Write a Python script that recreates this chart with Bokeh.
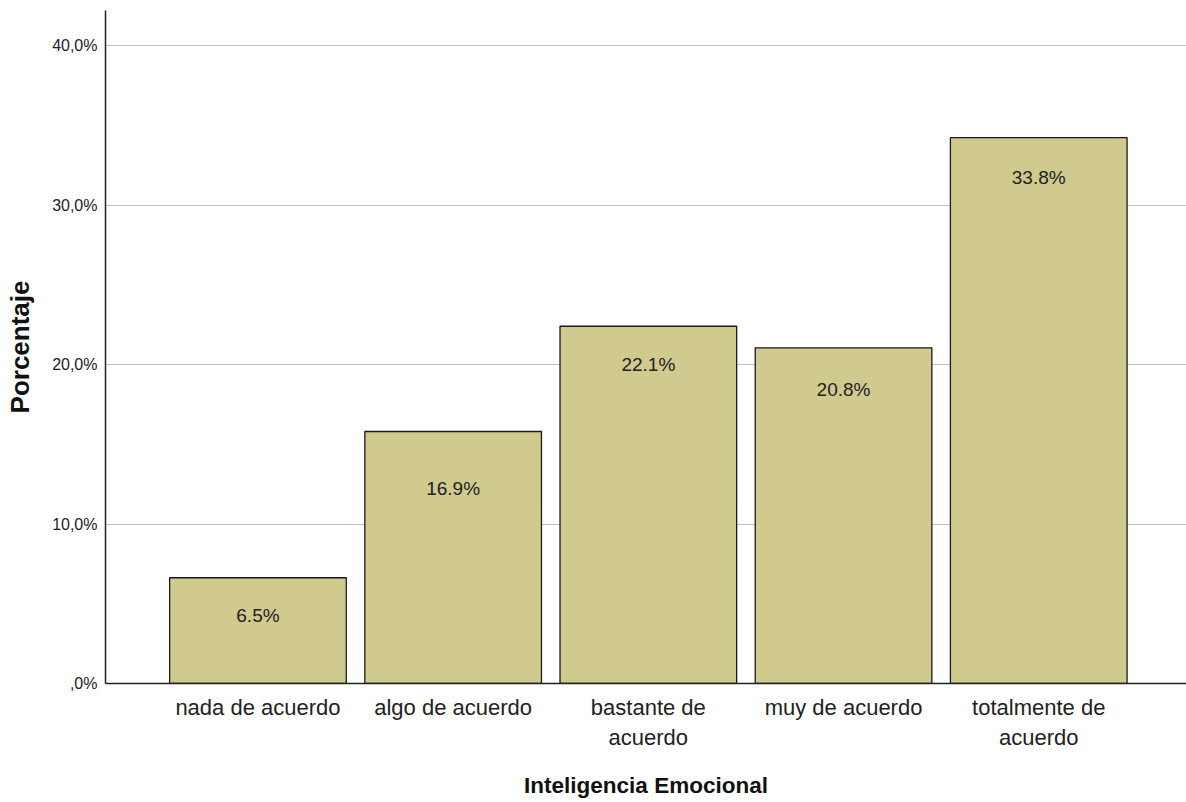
from bokeh.plotting import figure
from bokeh.models import Range1d, FixedTicker, ColumnDataSource
from bokeh.core.properties import value
from bokeh.embed import file_html
from bokeh.resources import INLINE

# Data
categories = ["nada de acuerdo", "algo de acuerdo", "bastante de\nacuerdo",
              "muy de acuerdo", "totalmente de\nacuerdo"]
bar_heights = [6.63, 15.8, 22.4, 21.05, 34.23]
bar_labels = ["6.5%", "16.9%", "22.1%", "20.8%", "33.8%"]
label_offsets = [38, 57, 38, 42, 40]
y_ticks = [0, 10, 20, 30, 40]
y_tick_labels = [",0%", "10,0%", "20,0%", "30,0%", "40,0%"]

FONT = "Liberation Sans"
xs = list(range(len(categories)))

src = ColumnDataSource(dict(x=xs, top=bar_heights, lab=bar_labels, off=label_offsets))

p = figure(width=1186, height=802, output_backend="svg", toolbar_location=None,
           x_range=Range1d(-0.781, 4.757), y_range=Range1d(0, 42.2),
           min_border_left=105, min_border_right=0, min_border_top=10, min_border_bottom=119)
p.outline_line_color = None
p.background_fill_color = "white"
p.border_fill_color = "white"

p.vbar(x="x", top="top", bottom=0, width=0.905, source=src,
       fill_color="#d0ca8f", line_color="#1a1a1a", line_width=1.3)

p.text(x="x", y="top", text="lab", y_offset="off", source=src,
       text_align="center", text_baseline="middle",
       text_font=value(FONT), text_font_size="19px", text_color="#222222")

# y axis
p.yaxis.ticker = FixedTicker(ticks=y_ticks)
p.yaxis.major_label_overrides = {t: l for t, l in zip(y_ticks, y_tick_labels)}
p.yaxis.major_label_text_font = FONT
p.yaxis.major_label_text_font_size = "16px"
p.yaxis.major_label_text_color = "#222222"
p.yaxis.major_tick_line_color = None
p.yaxis.major_tick_out = 0
p.yaxis.major_tick_in = 0
p.yaxis.minor_tick_line_color = None
p.yaxis.minor_tick_out = 0
p.yaxis.major_label_standoff = 8
p.yaxis.axis_line_color = "#222222"
p.yaxis.axis_line_width = 1.5
p.yaxis.axis_label = "Porcentaje"
p.yaxis.axis_label_text_font = FONT
p.yaxis.axis_label_text_font_style = "bold"
p.yaxis.axis_label_text_font_size = "26px"
p.yaxis.axis_label_text_color = "#111111"
p.yaxis.axis_label_standoff = 14

# x axis
p.xaxis.ticker = FixedTicker(ticks=xs)
p.xaxis.major_label_overrides = {i: c for i, c in zip(xs, categories)}
p.xaxis.major_label_text_font = FONT
p.xaxis.major_label_text_font_size = "22px"
p.xaxis.major_label_text_color = "#222222"
p.xaxis.major_tick_line_color = None
p.xaxis.major_tick_out = 0
p.xaxis.major_tick_in = 0
p.xaxis.minor_tick_line_color = None
p.xaxis.minor_tick_out = 0
p.xaxis.major_label_standoff = 11
p.xaxis.axis_line_color = "#222222"
p.xaxis.axis_line_width = 1.5
p.xaxis.axis_label = "Inteligencia Emocional"
p.xaxis.axis_label_text_font = FONT
p.xaxis.axis_label_text_font_style = "bold"
p.xaxis.axis_label_text_font_size = "22.5px"
p.xaxis.axis_label_text_color = "#111111"
p.xaxis.axis_label_standoff = 20

p.xgrid.grid_line_color = None
p.ygrid.grid_line_color = "#c0c0c0"
p.ygrid.grid_line_width = 1

open("out.html", "w").write(file_html(p, INLINE))
